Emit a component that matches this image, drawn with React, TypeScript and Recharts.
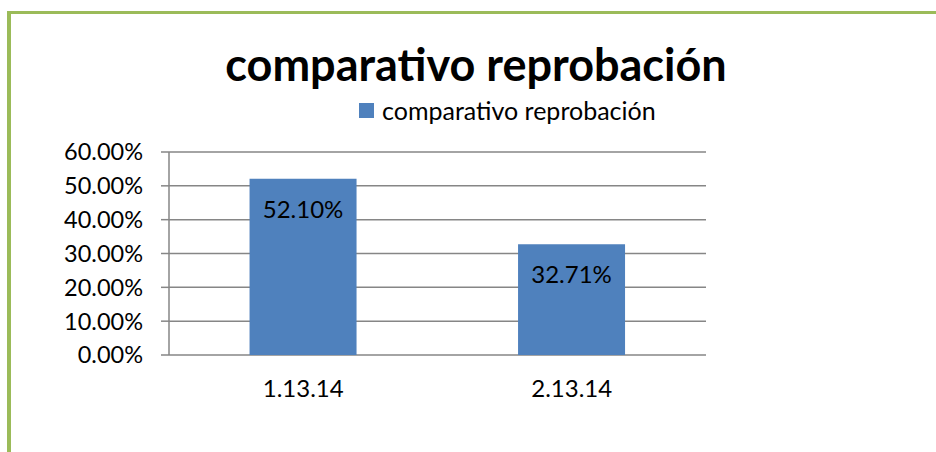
import React from "react";
import {
  BarChart,
  Bar,
  XAxis,
  YAxis,
  CartesianGrid,
  Legend,
  LabelList,
} from "recharts";

const categories = ["1.13.14", "2.13.14"];
const reprobacion = [0.521, 0.3271];
const yTicks = [0, 0.1, 0.2, 0.3, 0.4, 0.5, 0.6];
const edgeTicks = [0, 1, 2];

const seriesName = "comparativo reprobación";
const barColor = "#4f81bd";
const axisColor = "#868686";

const data = categories.map((name, i) => ({ name, value: reprobacion[i] }));

const pct = (v: number) => `${(v * 100).toFixed(2)}%`;

function LegendContent() {
  return (
    <div style={{ display: "flex", alignItems: "center", fontSize: 25, color: "#000", lineHeight: "30px" }}>
      <span
        style={{
          display: "inline-block",
          width: 15,
          height: 15,
          background: barColor,
          marginRight: 8,
        }}
      />
      <span>{seriesName}</span>
    </div>
  );
}

export default function App() {
  return (
    <div
      style={{
        position: "absolute",
        left: 0,
        top: 0,
        width: 936,
        height: 452,
        background: "#fff",
        fontFamily: "Lato, 'Open Sans', sans-serif",
        overflow: "hidden",
      }}
    >
      <div
        style={{
          position: "absolute",
          left: 7,
          top: 11,
          right: 0,
          bottom: 0,
          borderLeft: "4px solid #9bbb59",
          borderTop: "3px solid #9bbb59",
        }}
      />
      <div
        style={{
          position: "absolute",
          left: 0,
          width: 952,
          top: 38,
          textAlign: "center",
          fontSize: 45,
          fontWeight: 700,
          color: "#000",
          lineHeight: "52px",
        }}
      >
        {seriesName}
      </div>
      <BarChart
        width={936}
        height={452}
        data={data}
        margin={{ top: 122, right: 230, bottom: 57, left: 69 }}
        barCategoryGap="30%"
      >
        <CartesianGrid vertical={false} stroke={axisColor} strokeWidth={1.5} />
        <XAxis
          xAxisId="edges"
          type="number"
          domain={[0, 2]}
          ticks={edgeTicks}
          allowDataOverflow
          height={0}
          tickSize={7}
          tickFormatter={() => ""}
          axisLine={{ stroke: axisColor, strokeWidth: 1.5 }}
          tickLine={{ stroke: axisColor, strokeWidth: 1.5 }}
        />
        <XAxis
          dataKey="name"
          height={40}
          axisLine={false}
          tickLine={false}
          tickMargin={19}
          interval={0}
          tick={{ fill: "#000", fontSize: 24 }}
        />
        <YAxis
          width={100}
          domain={[0, 0.6]}
          ticks={yTicks}
          interval={0}
          tickFormatter={pct}
          tickSize={8}
          tickMargin={18}
          tick={{ fill: "#000", fontSize: 23.5 }}
          axisLine={{ stroke: axisColor, strokeWidth: 1.5 }}
          tickLine={{ stroke: axisColor, strokeWidth: 1.5 }}
        />
        <Legend
          verticalAlign="top"
          align="left"
          content={<LegendContent />}
          wrapperStyle={{ top: 95, left: 359, width: "auto" }}
        />
        <Bar dataKey="value" name={seriesName} fill={barColor} isAnimationActive={false}>
          <LabelList
            dataKey="value"
            position="insideTop"
            offset={22}
            formatter={(v: number) => pct(v)}
            style={{ fill: "#000", fontSize: 24 }}
          />
        </Bar>
      </BarChart>
    </div>
  );
}
